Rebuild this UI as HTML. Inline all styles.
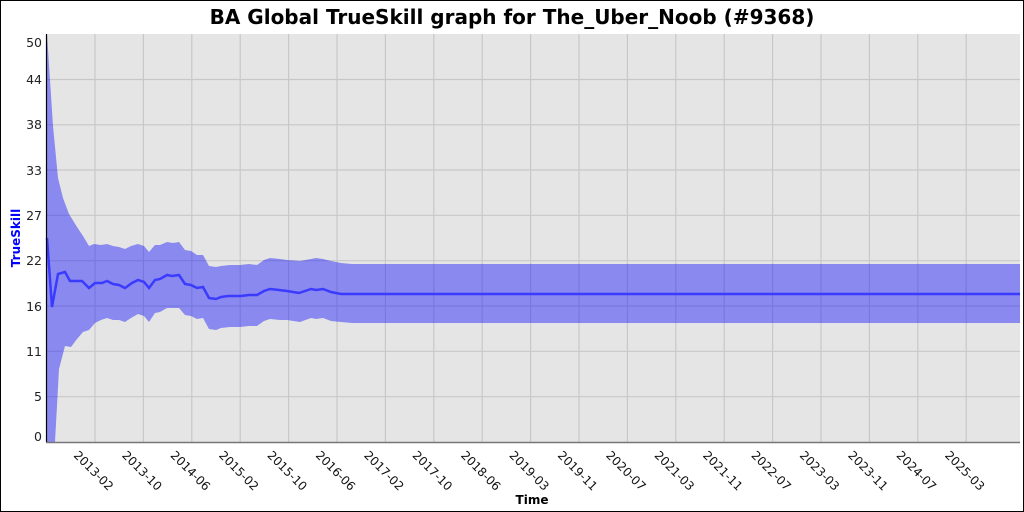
<!DOCTYPE html>
<html><head><meta charset="utf-8"><style>
html,body{margin:0;padding:0;background:#fff}
svg{display:block}
text{font-family:"DejaVu Sans","Liberation Sans",sans-serif}
</style></head><body>
<svg width="1024" height="512" viewBox="0 0 1024 512" xmlns="http://www.w3.org/2000/svg">
<rect x="0.5" y="0.5" width="1023" height="511" fill="#fff" stroke="#000" stroke-width="1"/>
<text x="512" y="24" text-anchor="middle" font-size="20" font-weight="bold">BA Global TrueSkill graph for The_Uber_Noob (#9368)</text>
<rect x="47" y="34" width="973" height="408" fill="#e5e5e5"/>
<g stroke="#c8c8c8" stroke-width="1.2">
<line x1="47" x2="1020" y1="79.5" y2="79.5"/><line x1="47" x2="1020" y1="124.8" y2="124.8"/>
<line x1="47" x2="1020" y1="170" y2="170"/><line x1="47" x2="1020" y1="215.3" y2="215.3"/>
<line x1="47" x2="1020" y1="260.7" y2="260.7"/><line x1="47" x2="1020" y1="306" y2="306"/>
<line x1="47" x2="1020" y1="351.3" y2="351.3"/><line x1="47" x2="1020" y1="396.7" y2="396.7"/>
<line x1="95" x2="95" y1="34" y2="442"/><line x1="143.4" x2="143.4" y1="34" y2="442"/><line x1="191.8" x2="191.8" y1="34" y2="442"/><line x1="240.2" x2="240.2" y1="34" y2="442"/><line x1="288.6" x2="288.6" y1="34" y2="442"/><line x1="337" x2="337" y1="34" y2="442"/><line x1="385.4" x2="385.4" y1="34" y2="442"/><line x1="433.8" x2="433.8" y1="34" y2="442"/><line x1="482.2" x2="482.2" y1="34" y2="442"/><line x1="530.6" x2="530.6" y1="34" y2="442"/><line x1="579" x2="579" y1="34" y2="442"/><line x1="627.4" x2="627.4" y1="34" y2="442"/><line x1="675.8" x2="675.8" y1="34" y2="442"/><line x1="724.2" x2="724.2" y1="34" y2="442"/><line x1="772.6" x2="772.6" y1="34" y2="442"/><line x1="821" x2="821" y1="34" y2="442"/><line x1="869.4" x2="869.4" y1="34" y2="442"/><line x1="917.8" x2="917.8" y1="34" y2="442"/><line x1="966.2" x2="966.2" y1="34" y2="442"/>
</g>
<polygon fill="#0000ff" fill-opacity="0.4" points="47,34 50,80 53,126 58,178 63,198 69,214 77,227 83,236 89,246 94,244 101,245 107,244 113,246 119,247 125,249 131,246 138,244 144,246 149,252 155,245 160,245 167,242 173,243 179,242 185,250 191,251 197,255 203,255 209,266 216,267 221,266 230,265 240,265 249,264 257,265 264,260 270,258 280,259 287,260 300,261 311,259 316,258 323,259 331,261 341,263 352,264 1020,264 1020,323 352,323 341,322 331,321 323,318 316,319 311,318 300,322 287,320 280,320 270,319 264,321 257,326 249,326 240,327 230,327 221,328 216,330 209,329 203,318 197,319 191,316 185,315 179,308 173,308 167,308 160,312 155,313 149,322 144,316 138,314 131,318 125,322 119,320 113,320 107,318 101,320 95,323 89,330 83,332 77,339 71,347 65,346 59,369 55,442 47,442"/>
<polyline fill="none" stroke="#3b3bff" stroke-width="2.5" points="47,238 52,307 58,274 65,272 70,281 82,281 89,288 95,283 102,283 107,281 113,284 119,285 125,288 132,283 138,280 144,282 149,288 155,280 160,279 167,275 172,276 179,275 185,284 191,285 197,288 203,287 209,298 216,299 221,297 228,296 235,296 241,296 249,295 257,295 264,291 270,289 279,290 287,291 299,293 311,289 316,290 323,289 331,292 341,294 352,294 1020,294"/>
<line x1="46.5" y1="34" x2="46.5" y2="442" stroke="#000" stroke-width="1.2"/>
<line x1="46" y1="442.5" x2="1020" y2="442.5" stroke="#777" stroke-width="1.5"/>
<g font-size="12.5" text-anchor="end" fill="#222">
<text x="42" y="47">50</text><text x="42" y="84">44</text><text x="42" y="129">38</text><text x="42" y="175">33</text><text x="42" y="220">27</text><text x="42" y="265">22</text><text x="42" y="311">16</text><text x="42" y="356">11</text><text x="42" y="401">5</text><text x="42" y="441">0</text>
</g>
<text transform="translate(20,238) rotate(-90)" text-anchor="middle" font-size="12" font-weight="bold" fill="#0000ff">TrueSkill</text>
<text x="532" y="504" text-anchor="middle" font-size="12" font-weight="bold">Time</text>
<g font-size="12" fill="#111">
<text transform="translate(73,456) rotate(45)">2013-02</text>
<text transform="translate(121.4,456) rotate(45)">2013-10</text>
<text transform="translate(169.8,456) rotate(45)">2014-06</text>
<text transform="translate(218.2,456) rotate(45)">2015-02</text>
<text transform="translate(266.6,456) rotate(45)">2015-10</text>
<text transform="translate(315,456) rotate(45)">2016-06</text>
<text transform="translate(363.4,456) rotate(45)">2017-02</text>
<text transform="translate(411.8,456) rotate(45)">2017-10</text>
<text transform="translate(460.2,456) rotate(45)">2018-06</text>
<text transform="translate(508.6,456) rotate(45)">2019-03</text>
<text transform="translate(557,456) rotate(45)">2019-11</text>
<text transform="translate(605.4,456) rotate(45)">2020-07</text>
<text transform="translate(653.8,456) rotate(45)">2021-03</text>
<text transform="translate(702.2,456) rotate(45)">2021-11</text>
<text transform="translate(750.6,456) rotate(45)">2022-07</text>
<text transform="translate(799,456) rotate(45)">2023-03</text>
<text transform="translate(847.4,456) rotate(45)">2023-11</text>
<text transform="translate(895.8,456) rotate(45)">2024-07</text>
<text transform="translate(944.2,456) rotate(45)">2025-03</text>
</g>
</svg>
</body></html>
